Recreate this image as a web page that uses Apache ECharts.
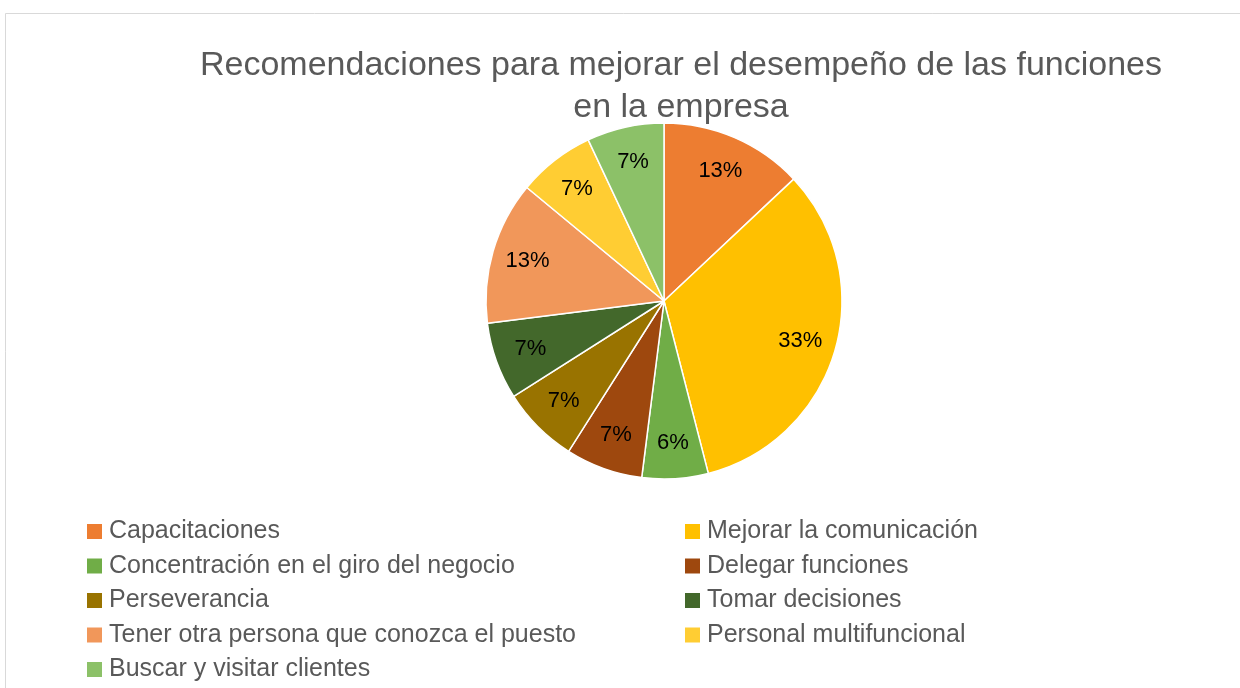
<!DOCTYPE html>
<html>
<head>
<meta charset="utf-8">
<script src="https://cdn.jsdelivr.net/npm/echarts@6/dist/echarts.min.js"></script>
<style>
  html, body { margin: 0; padding: 0; background: #fff; }
  #chart { width: 1240px; height: 688px; }
</style>
</head>
<body>
<div id="chart"></div>
<script>
const categories = [
  'Capacitaciones',
  'Mejorar la comunicación',
  'Concentración en el giro del negocio',
  'Delegar funciones',
  'Perseverancia',
  'Tomar decisiones',
  'Tener otra persona que conozca el puesto',
  'Personal multifuncional',
  'Buscar y visitar clientes',
];
const values = [13, 33, 6, 7, 7, 7, 13, 7, 7];
const colors = ['#ED7D31', '#FFC000', '#70AD47', '#9E480E', '#997300', '#43682B', '#F1975A', '#FFCD33', '#8CC168'];

const chart = echarts.init(document.getElementById('chart'));
const data = categories.map((name, i) => ({
  name,
  value: values[i],
  itemStyle: { color: colors[i] },
}));
// legend columns: even index left, odd index right
const leftNames = categories.filter((_, i) => i % 2 === 0);
const rightNames = categories.filter((_, i) => i % 2 === 1);

const font = 'Liberation Sans, Arial, sans-serif';
const legendBase = {
  orient: 'vertical',
  top: 519,
  height: 200,
  padding: 0,
  itemWidth: 17,
  itemHeight: 17,
  itemGap: 9.5,
  icon: 'rect',
  selectedMode: false,
  textStyle: { fontSize: 25, color: '#595959', fontFamily: font, lineHeight: 25, padding: [0, 0, 0, 1] },
};

const option = {
  backgroundColor: '#fff',
  animation: false,
  graphic: [{
    type: 'rect',
    shape: { x: 5.5, y: 13.5, width: 1260, height: 700 },
    style: { fill: 'none', stroke: '#d9d9d9', lineWidth: 1 },
    silent: true,
  }],
  title: {
    text: 'Recomendaciones para mejorar el desempeño de las funciones\nen la empresa',
    left: 676,
    top: 40,
    textAlign: 'center',
    textStyle: {
      fontSize: 34,
      fontWeight: 'normal',
      color: '#595959',
      fontFamily: font,
      lineHeight: 42,
    },
  },
  legend: [
    Object.assign({}, legendBase, { left: 85, data: leftNames }),
    Object.assign({}, legendBase, { left: 683, data: rightNames }),
  ],
  series: [
    {
      type: 'pie',
      center: [664, 301],
      radius: 178,
      startAngle: 90,
      clockwise: true,
      label: { show: false },
      labelLine: { show: false },
      itemStyle: { borderColor: '#fff', borderWidth: 1.5 },
      emphasis: { disabled: true },
      data,
    },
    {
      // label-only ring so the percentages sit near the outer part of each slice
      type: 'pie',
      center: [664, 301],
      radius: [100, 178],
      startAngle: 90,
      clockwise: true,
      silent: true,
      itemStyle: { color: 'rgba(0,0,0,0)' },
      label: {
        show: true,
        position: 'inside',
        formatter: '{c}%',
        fontSize: 22,
        color: '#000',
        fontFamily: font,
      },
      labelLine: { show: false },
      emphasis: { disabled: true },
      data: categories.map((name, i) => ({ name, value: values[i] })),
    },
  ],
};
chart.setOption(option);
</script>
</body>
</html>
